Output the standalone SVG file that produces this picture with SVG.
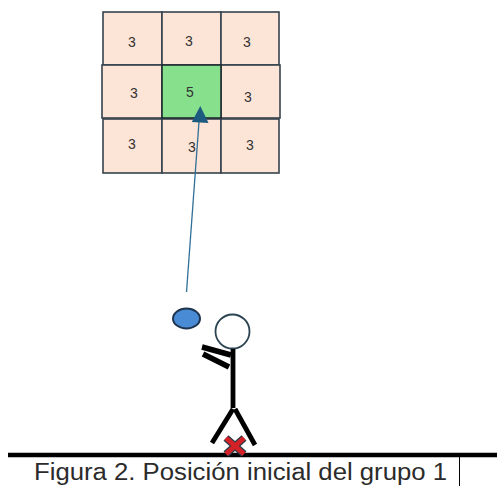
<svg xmlns="http://www.w3.org/2000/svg" width="497" height="486" viewBox="0 0 497 486">
  <style>
    .cell { fill: #fce4d6; stroke: #35434d; stroke-width: 1.6; }
    .cell.hit { fill: #86e08c; stroke: #1f2a30; }
    .num { font-family: "Liberation Sans", Arial, sans-serif; font-size: 14px; fill: #333; text-anchor: middle; }
    .limb { stroke: #000; stroke-width: 4.8; stroke-linecap: butt; fill: none; }
    .arm { stroke: #000; stroke-width: 5.5; stroke-linecap: butt; fill: none; }
    .caption { font-family: "Liberation Sans", Arial, sans-serif; font-size: 23px; fill: #2b2b2b; }
  </style>

  <rect width="497" height="486" fill="#fff"/>

  <!-- target grid -->
  <g id="grid">
    <g id="cell-r1c1"><rect class="cell" x="103" y="12" width="59" height="53"/><text class="num" x="132" y="47">3</text></g>
    <g id="cell-r1c2"><rect class="cell" x="162" y="12" width="59" height="53"/><text class="num" x="189" y="46">3</text></g>
    <g id="cell-r1c3"><rect class="cell" x="221" y="12" width="58" height="53"/><text class="num" x="247" y="47">3</text></g>
    <g id="cell-r2c1"><rect class="cell" x="102" y="65" width="60" height="53"/><text class="num" x="134" y="98">3</text></g>
    <g id="cell-r2c3"><rect class="cell" x="221" y="65" width="59" height="53"/><text class="num" x="248" y="102">3</text></g>
    <g id="cell-r3c1"><rect class="cell" x="103" y="119" width="59" height="54"/><text class="num" x="132" y="149">3</text></g>
    <g id="cell-r3c2"><rect class="cell" x="162" y="119" width="59" height="54"/><text class="num" x="192" y="152">3</text></g>
    <g id="cell-r3c3"><rect class="cell" x="221" y="119" width="58" height="54"/><text class="num" x="250" y="150">3</text></g>
    <g id="cell-r2c2"><rect class="cell hit" x="162" y="65" width="59" height="53"/><text class="num" x="190" y="97">5</text></g>
  </g>

  <!-- throw trajectory -->
  <g id="connectors">
    <line x1="186.5" y1="292" x2="199.5" y2="115" stroke="#2f6f98" stroke-width="1.3"/>
    <path d="M200.3,106 L208.5,123 L191.8,122 z" fill="#1d5a80"/>
  </g>

  <!-- ball -->
  <g id="ball">
    <ellipse cx="186.5" cy="318.5" rx="13.5" ry="10" fill="#4a8bd6" stroke="#1d3550" stroke-width="2"/>
  </g>

  <!-- stick figure -->
  <g id="player">
    <circle cx="232.5" cy="331.5" r="17" fill="#fff" stroke="#2c4452" stroke-width="1.8"/>
    <line class="limb" x1="233" y1="349" x2="233" y2="408"/>
    <line class="arm" x1="202" y1="347" x2="231" y2="355"/>
    <line class="arm" x1="203" y1="354" x2="229" y2="367"/>
    <line class="limb" x1="233" y1="409" x2="212" y2="443"/>
    <line class="limb" x1="235" y1="409" x2="255" y2="445"/>
  </g>

  <!-- floor -->
  <g id="floor">
    <line x1="8" y1="455" x2="497" y2="455" stroke="#000" stroke-width="4.5"/>
  </g>

  <!-- start mark -->
  <g id="start-mark">
    <path d="M226,438 L244,454 M244,438 L226,454" stroke="#2c3d48" stroke-width="7.5" stroke-linecap="butt"/>
    <path d="M226,438 L244,454 M244,438 L226,454" stroke="#d42027" stroke-width="5" stroke-linecap="butt"/>
  </g>

  <!-- caption -->
  <g id="caption">
    <text class="caption" x="34" y="480" textLength="413" lengthAdjust="spacingAndGlyphs">Figura 2. Posición inicial del grupo 1</text>
    <line x1="459.5" y1="456" x2="459.5" y2="486" stroke="#000" stroke-width="1"/>
  </g>
</svg>
